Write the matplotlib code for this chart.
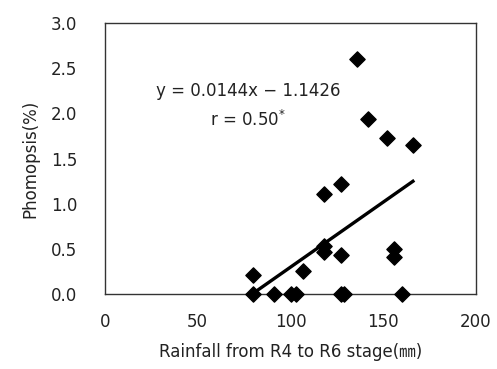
import numpy as np
import matplotlib
matplotlib.use("Agg")
import matplotlib.pyplot as plt

# Data
rain = [80, 80, 91, 100, 103, 107, 118, 118, 118, 127, 127, 127, 129,
        136, 142, 152, 166, 156, 156, 160]
phom = [0.21, 0.0, 0.0, 0.0, 0.0, 0.26, 1.11, 0.53, 0.47, 1.22, 0.43, 0.0, 0.0,
        2.60, 1.94, 1.73, 1.65, 0.50, 0.41, 0.0]
slope, intercept = 0.0144, -1.1426

plt.rcParams['font.family'] = ['DejaVu Sans', 'Noto Sans CJK KR']
fig = plt.figure(figsize=(4.97, 3.69), dpi=100)
ax = fig.add_axes([105/497, 1 - 294/369, 371/497, 271/369])

ax.scatter(rain, phom, marker='D', s=60, color='black', zorder=3, clip_on=False)
xl = np.array([min(rain), max(rain)])
ax.plot(xl, slope * xl + intercept, color='black', lw=2.4)

ax.text(77, 2.25, "y = 0.0144x \u2212 1.1426", ha='center', va='center', fontsize=12, color='#222222')
ax.text(77, 1.93, r"r = 0.50$^{*}$", ha='center', va='center', fontsize=12, color='#222222')

ax.set_xlim(0, 200)
ax.set_ylim(0, 3.0)
ax.set_xticks([0, 50, 100, 150, 200])
ax.set_yticks(np.arange(0, 3.01, 0.5))
ax.set_yticklabels([f"{v:.1f}" for v in np.arange(0, 3.01, 0.5)])
ax.tick_params(length=0, labelsize=12, colors='#222222')
ax.tick_params(axis='x', pad=14)
ax.tick_params(axis='y', pad=20)
for s in ax.spines.values():
    s.set_color('#333333')
    s.set_linewidth(1.0)

ax.set_xlabel("Rainfall from R4 to R6 stage(\u339c)", fontsize=12, color='#222222', labelpad=8)
ax.set_ylabel("Phomopsis(%)", fontsize=12, color='#222222', labelpad=8)

fig.savefig("out.png", dpi=100)
